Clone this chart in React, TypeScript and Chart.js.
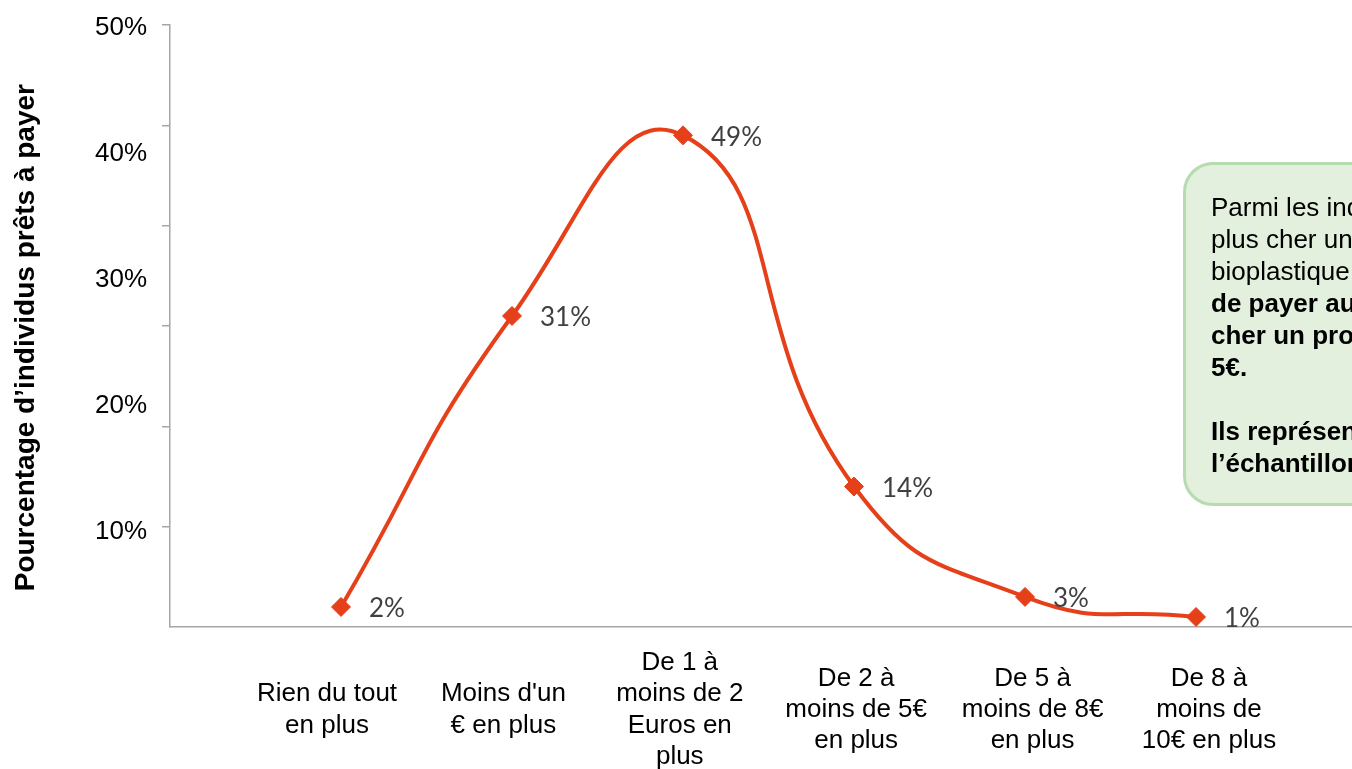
import React, { useEffect, useRef } from "react";
import { Chart, registerables } from "chart.js";

Chart.register(...registerables);

const categories: string[][] = [
  ["Rien du tout", "en plus"],
  ["Moins d'un", "€ en plus"],
  ["De 1 à", "moins de 2", "Euros en", "plus"],
  ["De 2 à", "moins de 5€", "en plus"],
  ["De 5 à", "moins de 8€", "en plus"],
  ["De 8 à", "moins de", "10€ en plus"],
];
const values: number[] = [2, 31, 49, 14, 3, 1];
const yTickValues: number[] = [10, 20, 30, 40, 50];
const yTitle = "Pourcentage d’individus prêts à payer\u00a0\u00a0\u00a0";

const LINE = "#E5401A";
const AXIS = "#a6a6a6";
const ARIAL = "'Liberation Sans', Arial, sans-serif";

const labelPlugin = {
  id: "pointLabels",
  afterDatasetsDraw(chart: any) {
    const meta = chart.getDatasetMeta(0);
    const ctx = chart.ctx;
    ctx.save();
    ctx.font = "26px Lato, 'Open Sans', sans-serif";
    ctx.fillStyle = "#404040";
    ctx.textAlign = "left";
    ctx.textBaseline = "middle";
    meta.data.forEach((pt: any, i: number) => {
      ctx.fillText(`${values[i]}%`, pt.x + 28, pt.y + 2);
    });
    ctx.restore();
  },
};

export default function App() {
  const ref = useRef<HTMLCanvasElement | null>(null);
  useEffect(() => {
    if (!ref.current) return;
    const chart = new Chart(ref.current, {
      type: "line",
      data: {
        datasets: [
          {
            data: values.map((v, i) => ({ x: i, y: v })),
            borderColor: LINE,
            backgroundColor: LINE,
            borderWidth: 4,
            tension: 0.5,
            pointStyle: "rectRot",
            pointRadius: 9.5,
            pointBorderWidth: 1,
            pointBackgroundColor: LINE,
            pointBorderColor: LINE,
            clip: false as any,
          },
        ],
      },
      options: {
        animation: false,
        responsive: false,
        devicePixelRatio: 1,
        layout: { autoPadding: false, padding: { top: 25, left: 0, right: 0, bottom: 0 } },
        plugins: {
          legend: { display: false },
          tooltip: { enabled: false },
        },
        scales: {
          x: {
            type: "linear",
            display: false,
            min: -1.0,
            max: 5.912,
          },
          xLabels: {
            type: "linear",
            position: "bottom",
            weight: 1,
            min: -0.89,
            max: 5.811,
            afterBuildTicks: (s: any) => {
              s.ticks = categories.map((_, i) => ({ value: i }));
            },
            afterFit: (s: any) => {
              s.height = 142;
            },
            grid: { display: false, drawTicks: false },
            border: { display: true, color: AXIS, width: 1.5 },
            ticks: {
              autoSkip: false,
              maxRotation: 0,
              minRotation: 0,
              crossAlign: "center",
              padding: 36,
              color: "#000",
              font: { family: ARIAL, size: 26, lineHeight: 1.2 },
              callback: (v: any) => categories[Number(v)] ?? "",
            },
          },
          y: {
            type: "linear",
            position: "left",
            weight: 0,
            min: 0,
            max: 60,
            afterFit: (s: any) => {
              s.width = 23;
            },
            grid: {
              display: true,
              drawOnChartArea: false,
              drawTicks: true,
              tickLength: 8,
              color: (c: any) => (c.tick && c.tick.value === 0 ? "rgba(0,0,0,0)" : AXIS),
              lineWidth: 1.5,
            },
            border: { display: true, color: AXIS, width: 1.5 },
            ticks: { display: false, stepSize: 10 },
          },
          yLabels: {
            type: "linear",
            position: "left",
            weight: 1,
            min: 2.46,
            max: 50.24,
            afterBuildTicks: (s: any) => {
              s.ticks = yTickValues.map((v) => ({ value: v }));
            },
            afterFit: (s: any) => {
              s.width = 147;
            },
            grid: { display: false, drawTicks: false },
            border: { display: false },
            title: {
              display: true,
              text: yTitle,
              color: "#000",
              font: { family: ARIAL, size: 28, weight: "bold", lineHeight: 1.2 },
              padding: { top: 9, bottom: 0 },
            },
            ticks: {
              padding: 0,
              color: "#000",
              font: { family: ARIAL, size: 26 },
              callback: (v: any) => `${v}%`,
            },
          },
        },
      } as any,
      plugins: [labelPlugin],
    });
    return () => chart.destroy();
  }, []);

  return (
    <div
      style={{
        position: "absolute",
        left: 0,
        top: 0,
        width: 1352,
        height: 769,
        overflow: "hidden",
        background: "#fff",
      }}
    >
      <canvas ref={ref} width={1352} height={769} style={{ position: "absolute", left: 0, top: 0, width: 1352, height: 769 }} />
      <div
        style={{
          position: "absolute",
          left: 1183,
          top: 162,
          width: 380,
          height: 344,
          border: "3px solid #b5dbaf",
          borderRadius: 30,
          background: "#e3f0dd",
          fontFamily: ARIAL,
          fontSize: 26,
          lineHeight: "32px",
          color: "#000",
          whiteSpace: "nowrap",
          padding: "26px 0 0 25px",
          boxSizing: "border-box",
        }}
      >
        Parmi les individus prêts à payer
        <br />
        plus cher un produit en
        <br />
        bioplastique, 94% sont prêts
        <br />
        <b>de payer au moins 1€ plus</b>
        <br />
        <b>cher un produit et moins de</b>
        <br />
        <b>5€.</b>
        <br />
        <br />
        <b>Ils représentent 63% de</b>
        <br />
        <b>l’échantillon.</b>
      </div>
    </div>
  );
}
